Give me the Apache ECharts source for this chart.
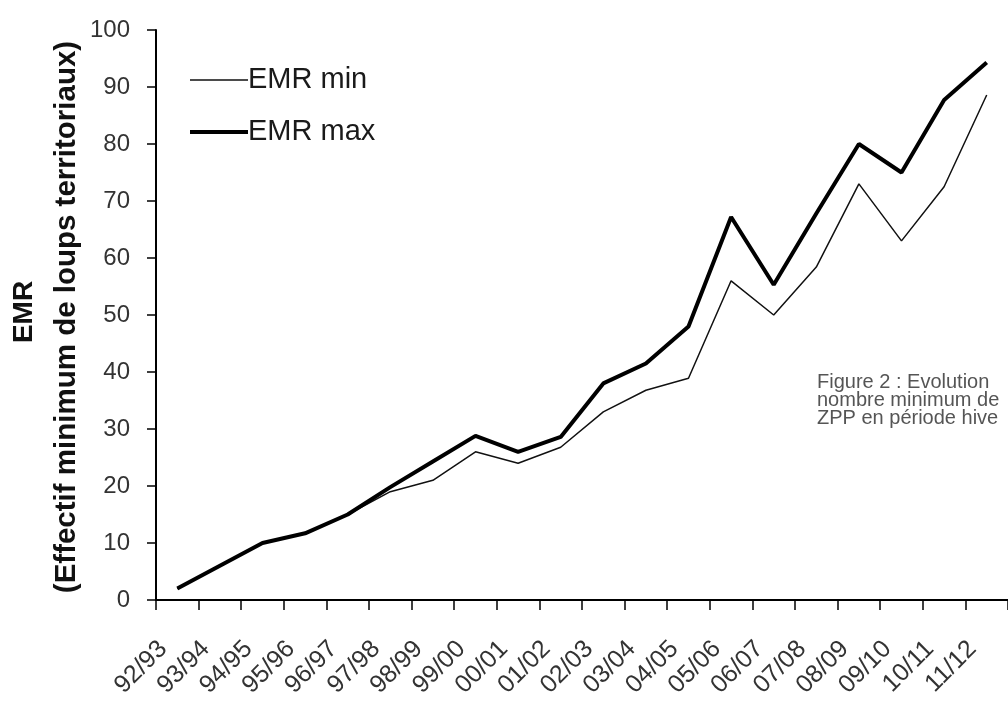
<!DOCTYPE html>
<html>
<head>
<meta charset="utf-8">
<script src="https://cdn.jsdelivr.net/npm/echarts@6/dist/echarts.min.js"></script>
<style>html,body{margin:0;padding:0;background:#fff}#c{width:1008px;height:704px}</style>
</head>
<body>
<div id="c"></div>
<script>
const categories = ['92/93','93/94','94/95','95/96','96/97','97/98','98/99','99/00','00/01','01/02','02/03','03/04','04/05','05/06','06/07','07/08','08/09','09/10','10/11','11/12'];
const emrMin = [2, 6, 10, 11.7, 15, 19, 21, 26, 24, 26.8, 33, 36.8, 38.9, 56, 50, 58.4, 73, 63, 72.5, 88.6];
const emrMax = [2, 6, 10, 11.7, 15, 19.8, 24.3, 28.8, 26, 28.6, 38, 41.5, 48, 67.2, 55.3, 67.8, 80, 75, 87.7, 94.3];
const yTitle1 = 'EMR';
const yTitle2 = '(Effectif minimum de loups territoriaux)';
const noteLines = ['Figure 2 : Evolution', 'nombre minimum de', 'ZPP en période hive'];

const FONT = "'Liberation Sans', Arial, sans-serif";
const CORNERS = 'M0,0L0.01,0L0,0.01Z M58,14L57.99,14L58,13.99Z ';
const thinIcon = 'path://' + CORNERS + 'M0,6.25L58,6.25L58,7.75L0,7.75Z';
const thickIcon = 'path://' + CORNERS + 'M0,5L58,5L58,9L0,9Z';

const chart = echarts.init(document.getElementById('c'), null, {renderer: 'canvas'});
chart.setOption({
  backgroundColor: '#fff',
  animation: false,
  textStyle: {fontFamily: FONT},
  grid: {left: 156, top: 30, width: 860, height: 570, containLabel: false},
  legend: {
    orient: 'vertical', left: 185, top: 60,
    itemWidth: 58, itemHeight: 14, itemGap: 22,
    itemStyle: {borderWidth: 0},
    data: [
      {name: 'EMR min', icon: thinIcon, itemStyle: {color: '#111', borderWidth: 0}},
      {name: 'EMR max', icon: thickIcon, itemStyle: {color: '#000', borderWidth: 0}}
    ],
    textStyle: {fontSize: 29, lineHeight: 30, color: '#1a1a1a', fontFamily: FONT, padding: [0, 0, 0, -5]}
  },
  xAxis: {
    type: 'category', data: categories, boundaryGap: true,
    axisLine: {lineStyle: {color: '#000', width: 2}},
    axisTick: {show: true, length: 10, lineStyle: {color: '#000', width: 1.5}},
    axisLabel: {rotate: 45, fontSize: 25, color: '#333', margin: 31, padding: [0, 20, 0, 0], interval: 0, fontFamily: FONT},
    splitLine: {show: false}
  },
  yAxis: {
    type: 'value', min: 0, max: 100, interval: 10,
    axisLine: {show: true, lineStyle: {color: '#000', width: 2}},
    axisTick: {show: true, length: 9, lineStyle: {color: '#000', width: 1.5}},
    axisLabel: {fontSize: 24, color: '#333', margin: 26, fontFamily: FONT},
    splitLine: {show: false}
  },
  series: [
    {name: 'EMR min', type: 'line', data: emrMin, symbol: 'none', lineStyle: {color: '#111', width: 1.5}, itemStyle: {color: '#111'}},
    {name: 'EMR max', type: 'line', data: emrMax, symbol: 'none', lineStyle: {color: '#000', width: 4}, itemStyle: {color: '#000'}}
  ],
  graphic: [
    {type: 'text', x: 24, y: 312, rotation: Math.PI / 2,
     style: {text: yTitle1, font: "bold 28px " + FONT, fill: '#111', align: 'center', verticalAlign: 'middle'}},
    {type: 'text', x: 67, y: 317, rotation: Math.PI / 2,
     style: {text: yTitle2, font: "bold 29.5px " + FONT, fill: '#111', align: 'center', verticalAlign: 'middle'}},
    {type: 'text', left: 817, top: 372,
     style: {text: noteLines.join('\n'), font: "20px " + FONT, lineHeight: 18, fill: '#555'}}
  ]
});
</script>
</body>
</html>
